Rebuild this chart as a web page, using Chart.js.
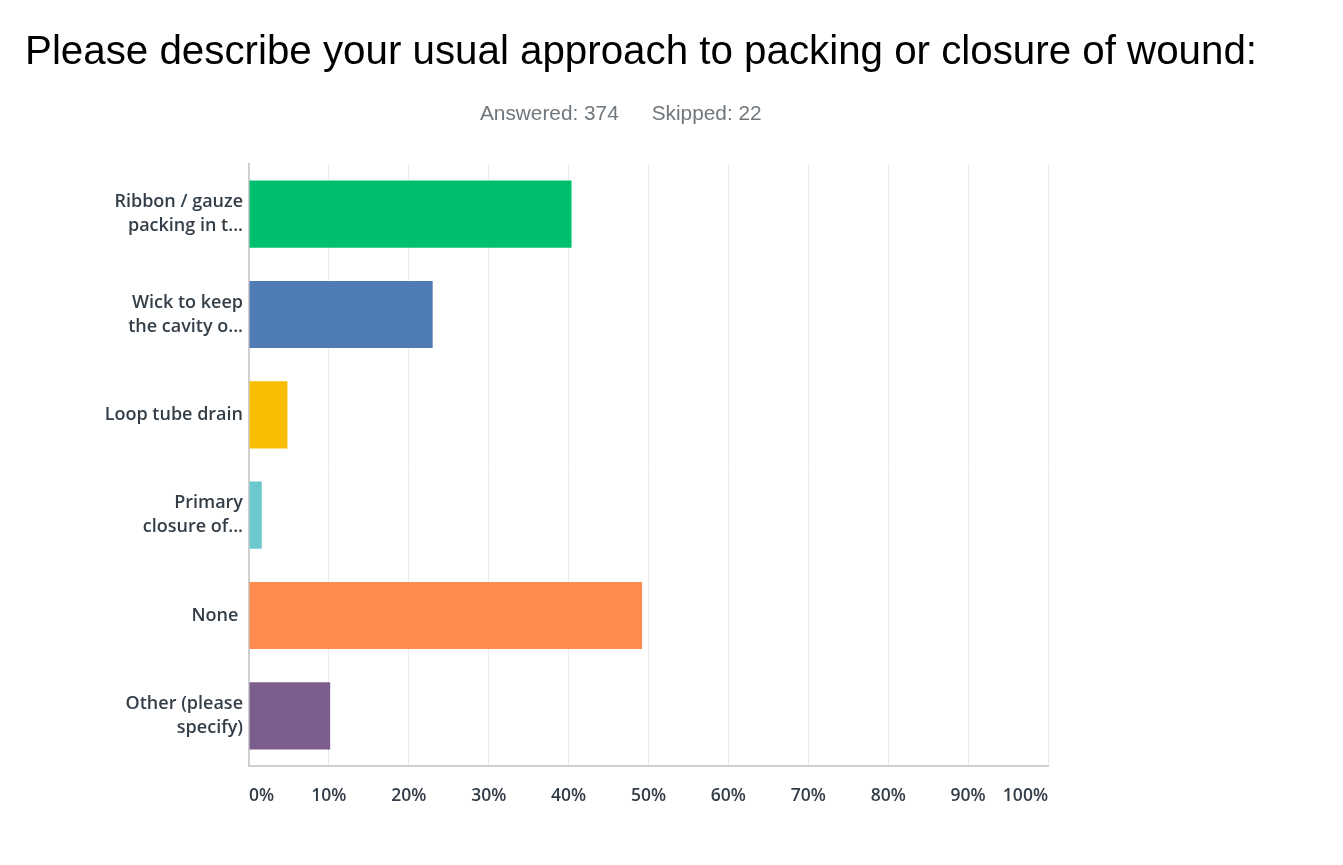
<!DOCTYPE html>
<html>
<head>
<meta charset="utf-8">
<script src="https://cdn.jsdelivr.net/npm/chart.js@4"></script>
<style>
  body { margin: 0; background: #fff; }
  #wrap { position: relative; width: 1343px; height: 865px; }
  #title { position: absolute; left: 25px; top: 28px; font-family: "Liberation Sans", Arial, sans-serif; font-size: 40.3px; color: #000; white-space: nowrap; }
  #sub { position: absolute; left: 480px; top: 101px; font-family: "Liberation Sans", Arial, sans-serif; font-size: 20.8px; color: #6f767c; white-space: nowrap; }
  #sub span + span { margin-left: 33px; }
  canvas { position: absolute; left: 0; top: 0; }
</style>
</head>
<body>
<div id="wrap">
  <canvas id="myBarChart" width="1343" height="865"></canvas>
  <div id="title">Please describe your usual approach to packing or closure of wound:</div>
  <div id="sub"><span>Answered: 374</span><span>Skipped: 22</span></div>
</div>
<script>
// 응답 항목 (줄바꿈은 배열로)
const categories = [
    ['Ribbon / gauze', 'packing in t...'],
    ['Wick to keep', 'the cavity o...'],
    'Loop tube drain',
    ['Primary', 'closure of...'],
    'None ',
    ['Other (please', 'specify)']
];
// 응답 비율 (%)
const percents = [40.37, 22.99, 4.81, 1.60, 49.20, 10.16];
const barColors = ['#00bf6f', '#507cb6', '#f9be00', '#6bc8cd', '#ff8b4f', '#7b5e8d'];
const xTicks = [0, 10, 20, 30, 40, 50, 60, 70, 80, 90, 100];

const labelFont = { family: '"Open Sans", Lato, sans-serif', size: 18, weight: '600', lineHeight: 1.33 };

const barCtx = document.getElementById('myBarChart').getContext('2d');
window.casesBarChart = new Chart(barCtx, {
    type: 'bar',
    data: {
        labels: categories,
        datasets: [{
            data: percents,
            backgroundColor: barColors,
            borderWidth: 0,
            barPercentage: 0.67,
            categoryPercentage: 1
        }]
    },
    options: {
        indexAxis: 'y',
        responsive: false,
        animation: false,
        layout: { padding: { top: 164, right: 295, bottom: 0, left: 0 } },
        plugins: { legend: { display: false }, tooltip: { enabled: false } },
        scales: {
            x: {
                min: 0,
                max: 100,
                afterBuildTicks: s => { s.ticks = xTicks.map(v => ({ value: v })); },
                afterFit: s => { s.height = 99; },
                grid: { color: '#ebebeb', lineWidth: 1, drawTicks: false },
                border: { color: '#cfcfcf', width: 2 },
                ticks: {
                    padding: 20,
                    align: 'inner',
                    color: '#333e48',
                    font: { family: '"Open Sans", Lato, sans-serif', size: 17.5, weight: '600' },
                    callback: v => v + '%'
                }
            },
            y: {
                afterFit: s => { s.width = 249; },
                grid: { display: false, drawTicks: false },
                border: { color: '#cfcfcf', width: 2 },
                ticks: {
                    padding: 6,
                    color: '#333e48',
                    font: labelFont
                }
            }
        }
    }
});
</script>
</body>
</html>
